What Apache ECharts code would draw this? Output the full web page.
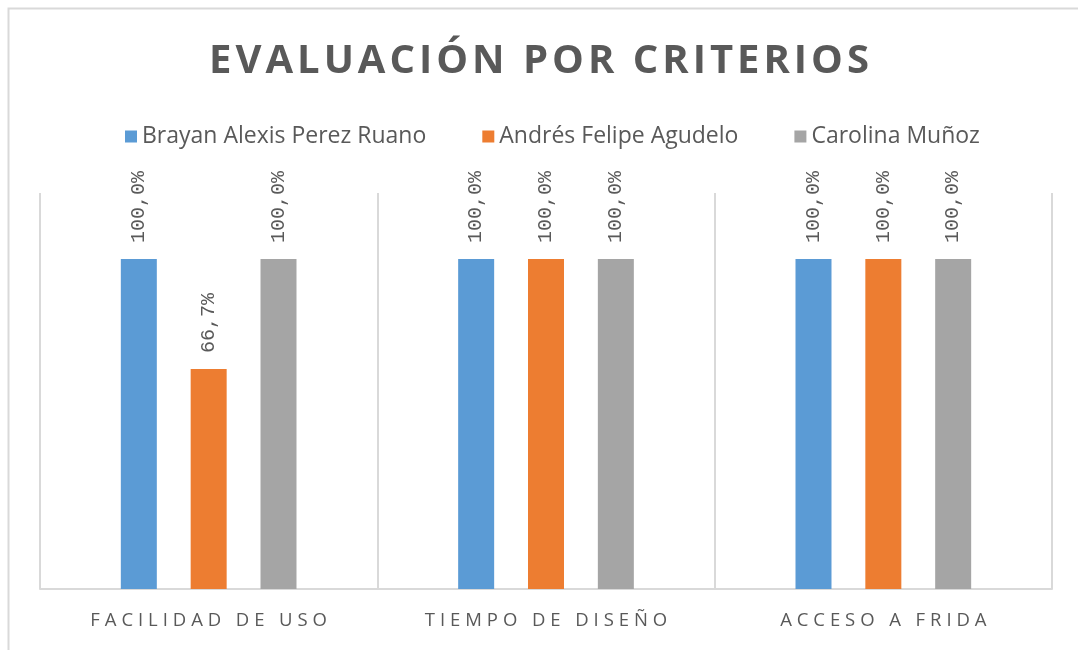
<!DOCTYPE html>
<html>
<head>
<meta charset="utf-8">
<script src="https://cdn.jsdelivr.net/npm/echarts@6/dist/echarts.min.js"></script>
<style>
  html, body { margin: 0; padding: 0; background: #fff; }
  #chart { width: 1078px; height: 650px; }
</style>
</head>
<body>
<div id="chart"></div>
<script>
// Chart content
const TITLE = 'EVALUACIÓN POR CRITERIOS';
const categories = ['FACILIDAD DE USO', 'TIEMPO DE DISEÑO', 'ACCESO A FRIDA'];
const seriesNames = ['Brayan Alexis Perez Ruano', 'Andrés Felipe Agudelo', 'Carolina Muñoz'];
const brayan = [1.0, 1.0, 1.0];
const andres = [0.667, 1.0, 1.0];
const carolina = [1.0, 1.0, 1.0];
const colors = ['#5B9BD5', '#ED7D31', '#A5A5A5'];

// Spread characters apart to imitate letter spacing
function spaced(str, sep) {
  return Array.from(str).join(sep);
}

function pct(v) {
  return (v * 100).toFixed(1).replace('.', ',') + '%';
}

const chart = echarts.init(document.getElementById('chart'), null, { renderer: 'canvas' });

const labelStyle = {
  show: true,
  position: 'top',
  rotate: 90,
  align: 'left',
  verticalAlign: 'middle',
  distance: 16,
  color: '#595959',
  fontFamily: 'Liberation Mono',
  fontSize: 20,
  formatter: p => pct(p.value)
};

const seriesData = [brayan, andres, carolina];

chart.setOption({
  backgroundColor: '#ffffff',
  animation: false,
  graphic: [{
    type: 'rect',
    shape: { x: 8.5, y: 8.5, width: 1080, height: 660 },
    style: { fill: 'none', stroke: '#d9d9d9', lineWidth: 2 },
    silent: true
  }],
  title: {
    text: spaced(TITLE, '\u200A'),
    left: 'center',
    top: 37,
    textStyle: {
      fontFamily: 'Open Sans',
      fontWeight: 'bold',
      fontSize: 40,
      color: '#595959'
    }
  },
  legend: {
    top: 120,
    left: 120,
    itemWidth: 12,
    itemHeight: 12,
    itemGap: 56,
    icon: 'rect',
    textStyle: {
      fontFamily: 'Open Sans',
      fontSize: 23,
      color: '#595959'
    },
    data: seriesNames
  },
  grid: {
    left: 40,
    right: 26,
    top: 193,
    bottom: 61,
    containLabel: false
  },
  xAxis: {
    type: 'category',
    data: categories,
    axisLine: { show: true, lineStyle: { color: '#d9d9d9', width: 2 } },
    axisTick: { show: false },
    splitLine: { show: true, lineStyle: { color: '#d9d9d9', width: 2 } },
    axisLabel: {
      margin: 22,
      color: '#595959',
      fontFamily: 'Open Sans',
      fontSize: 18.5,
      formatter: v => spaced(v, '\u2009\u200A')
    }
  },
  yAxis: {
    type: 'value',
    min: 0,
    max: 1.2,
    show: false,
    splitLine: { show: false }
  },
  series: seriesNames.map((name, i) => ({
    name: name,
    type: 'bar',
    data: seriesData[i],
    itemStyle: { color: colors[i] },
    barWidth: 36,
    barGap: '94%',
    label: labelStyle
  }))
});
</script>
</body>
</html>
